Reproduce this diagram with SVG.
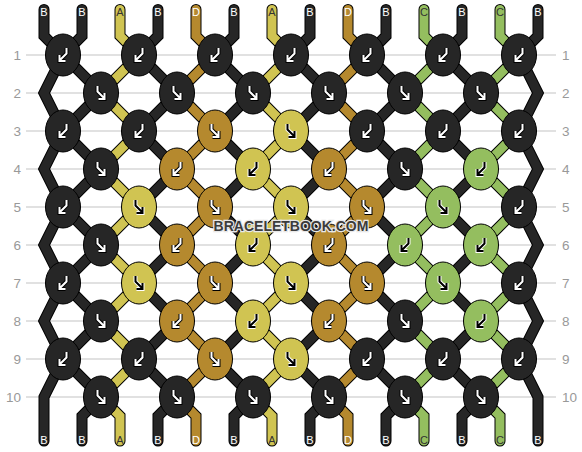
<svg xmlns="http://www.w3.org/2000/svg" xmlns:xlink="http://www.w3.org/1999/xlink" width="582" height="452" viewBox="0 0 582 452">
<style>
.grid line{stroke:#c4c4c4;stroke-width:1.2}
.rl{font-family:"Liberation Sans",Arial,sans-serif;font-size:13.5px;fill:#999}
.rl.l{text-anchor:end}
.sl{font-family:"Liberation Sans",Arial,sans-serif;font-size:11px;text-anchor:middle}
.sl .w{fill:#fff}.sl .d{fill:#333}
.th{fill:none;stroke-linecap:round;stroke-linejoin:miter}
.to{stroke:#000;stroke-width:11}
.tB{stroke:#262626;stroke-width:9}
.tA{stroke:#d0c452;stroke-width:9}
.tD{stroke:#b5892e;stroke-width:9}
.tC{stroke:#94be5f;stroke-width:9}
.k{stroke:#000;stroke-width:1}
.kB{fill:#262626}.kA{fill:#d0c452}.kD{fill:#b5892e}.kC{fill:#94be5f}
.ar{fill:none;stroke-linecap:butt;stroke-linejoin:miter}
.ok{stroke:#000;stroke-width:4}.iw{stroke:#fff;stroke-width:2}
.ow{stroke:#fff;stroke-width:4}.ik{stroke:#000;stroke-width:2}
.wm{font-family:"Liberation Sans",Arial,sans-serif;font-size:14px;font-weight:bold;fill:#3c3c3c;stroke:#e8e8e8;stroke-width:2.5;paint-order:stroke;text-anchor:middle}
</style>
<defs>
<path id="ze" d="M0,9.5 V36 l19,19 l-38,38 l38,38 l-38,38 l38,38 l-38,38 l38,38 l-38,38 l38,38 l-38,38 l19,19 V441"/>
<path id="zo" d="M0,9.5 V36 l-19,19 l38,38 l-38,38 l38,38 l-38,38 l38,38 l-38,38 l38,38 l-38,38 l38,38 l-19,19 V441"/>
<path id="zl" d="M0,9.5 V36 l19,19 l-19,38 l19,38 l-19,38 l19,38 l-19,38 l19,38 l-19,38 l19,38 l-19,38 V441"/>
<path id="zr" d="M0,9.5 V36 l-19,19 l19,38 l-19,38 l19,38 l-19,38 l19,38 l-19,38 l19,38 l-19,38 l19,38 V441"/>
<path id="aR" d="M-3.5,-7 V-1.5 L3,5 M-2.5,6 H3.5 V0"/>
<path id="aL" d="M3.5,-7 V-1.5 L-3,5 M2.5,6 H-3.5 V0"/>
<g id="Rw" class="ar"><use xlink:href="#aR" class="ok"/><use xlink:href="#aR" class="iw"/></g>
<g id="Lw" class="ar"><use xlink:href="#aL" class="ok"/><use xlink:href="#aL" class="iw"/></g>
<g id="Rk" class="ar"><use xlink:href="#aR" class="ow"/><use xlink:href="#aR" class="ik"/></g>
<g id="Lk" class="ar"><use xlink:href="#aL" class="ow"/><use xlink:href="#aL" class="ik"/></g>
<ellipse id="e" rx="17.5" ry="21"/>
</defs>
<rect width="582" height="452" fill="#fff"/>
<g class="grid">
<line x1="26" y1="55" x2="556" y2="55"/><line x1="26" y1="93" x2="556" y2="93"/><line x1="26" y1="131" x2="556" y2="131"/><line x1="26" y1="169" x2="556" y2="169"/><line x1="26" y1="207" x2="556" y2="207"/><line x1="26" y1="245" x2="556" y2="245"/><line x1="26" y1="283" x2="556" y2="283"/><line x1="26" y1="321" x2="556" y2="321"/><line x1="26" y1="359" x2="556" y2="359"/><line x1="26" y1="397" x2="556" y2="397"/>
</g>
<g id="row-labels">
<text class="rl l" x="21" y="59.5">1</text><text class="rl l" x="21" y="97.5">2</text><text class="rl l" x="21" y="135.5">3</text><text class="rl l" x="21" y="173.5">4</text><text class="rl l" x="21" y="211.5">5</text><text class="rl l" x="21" y="249.5">6</text><text class="rl l" x="21" y="287.5">7</text><text class="rl l" x="21" y="325.5">8</text><text class="rl l" x="21" y="363.5">9</text><text class="rl l" x="21" y="401.5">10</text>
<text class="rl" x="562" y="59.5">1</text><text class="rl" x="562" y="97.5">2</text><text class="rl" x="562" y="135.5">3</text><text class="rl" x="562" y="173.5">4</text><text class="rl" x="562" y="211.5">5</text><text class="rl" x="562" y="249.5">6</text><text class="rl" x="562" y="287.5">7</text><text class="rl" x="562" y="325.5">8</text><text class="rl" x="562" y="363.5">9</text><text class="rl" x="562" y="401.5">10</text>
</g>
<g id="connectors" class="th">
<use xlink:href="#zl" x="44" class="to"/><use xlink:href="#zl" x="44" class="tB"/>
<use xlink:href="#zo" x="82" class="to"/><use xlink:href="#zo" x="82" class="tB"/>
<use xlink:href="#ze" x="120" class="to"/><use xlink:href="#ze" x="120" class="tA"/>
<use xlink:href="#zo" x="158" class="to"/><use xlink:href="#zo" x="158" class="tB"/>
<use xlink:href="#ze" x="196" class="to"/><use xlink:href="#ze" x="196" class="tD"/>
<use xlink:href="#zo" x="234" class="to"/><use xlink:href="#zo" x="234" class="tB"/>
<use xlink:href="#ze" x="272" class="to"/><use xlink:href="#ze" x="272" class="tA"/>
<use xlink:href="#zo" x="310" class="to"/><use xlink:href="#zo" x="310" class="tB"/>
<use xlink:href="#ze" x="348" class="to"/><use xlink:href="#ze" x="348" class="tD"/>
<use xlink:href="#zo" x="386" class="to"/><use xlink:href="#zo" x="386" class="tB"/>
<use xlink:href="#ze" x="424" class="to"/><use xlink:href="#ze" x="424" class="tC"/>
<use xlink:href="#zo" x="462" class="to"/><use xlink:href="#zo" x="462" class="tB"/>
<use xlink:href="#ze" x="500" class="to"/><use xlink:href="#ze" x="500" class="tC"/>
<use xlink:href="#zr" x="538" class="to"/><use xlink:href="#zr" x="538" class="tB"/>
</g>
<g id="string-labels" class="sl">
<text class="w" x="44" y="16">B</text><text class="w" x="82" y="16">B</text><text class="d" x="120" y="16">A</text><text class="w" x="158" y="16">B</text><text class="w" x="196" y="16">D</text><text class="w" x="234" y="16">B</text><text class="d" x="272" y="16">A</text><text class="w" x="310" y="16">B</text><text class="w" x="348" y="16">D</text><text class="w" x="386" y="16">B</text><text class="d" x="424" y="16">C</text><text class="w" x="462" y="16">B</text><text class="d" x="500" y="16">C</text><text class="w" x="538" y="16">B</text>
<text class="w" x="44" y="444">B</text><text class="w" x="82" y="444">B</text><text class="d" x="120" y="444">A</text><text class="w" x="158" y="444">B</text><text class="w" x="196" y="444">D</text><text class="w" x="234" y="444">B</text><text class="d" x="272" y="444">A</text><text class="w" x="310" y="444">B</text><text class="w" x="348" y="444">D</text><text class="w" x="386" y="444">B</text><text class="d" x="424" y="444">C</text><text class="w" x="462" y="444">B</text><text class="d" x="500" y="444">C</text><text class="w" x="538" y="444">B</text>
</g>
<g id="knots">
<g id="k1-1" transform="translate(63,55)"><use xlink:href="#e" class="k kB"/><use xlink:href="#Lw"/></g>
<g id="k1-2" transform="translate(139,55)"><use xlink:href="#e" class="k kB"/><use xlink:href="#Lw"/></g>
<g id="k1-3" transform="translate(215,55)"><use xlink:href="#e" class="k kB"/><use xlink:href="#Lw"/></g>
<g id="k1-4" transform="translate(291,55)"><use xlink:href="#e" class="k kB"/><use xlink:href="#Lw"/></g>
<g id="k1-5" transform="translate(367,55)"><use xlink:href="#e" class="k kB"/><use xlink:href="#Lw"/></g>
<g id="k1-6" transform="translate(443,55)"><use xlink:href="#e" class="k kB"/><use xlink:href="#Lw"/></g>
<g id="k1-7" transform="translate(519,55)"><use xlink:href="#e" class="k kB"/><use xlink:href="#Lw"/></g>
<g id="k2-1" transform="translate(101,93)"><use xlink:href="#e" class="k kB"/><use xlink:href="#Rw"/></g>
<g id="k2-2" transform="translate(177,93)"><use xlink:href="#e" class="k kB"/><use xlink:href="#Rw"/></g>
<g id="k2-3" transform="translate(253,93)"><use xlink:href="#e" class="k kB"/><use xlink:href="#Rw"/></g>
<g id="k2-4" transform="translate(329,93)"><use xlink:href="#e" class="k kB"/><use xlink:href="#Rw"/></g>
<g id="k2-5" transform="translate(405,93)"><use xlink:href="#e" class="k kB"/><use xlink:href="#Rw"/></g>
<g id="k2-6" transform="translate(481,93)"><use xlink:href="#e" class="k kB"/><use xlink:href="#Rw"/></g>
<g id="k3-1" transform="translate(63,131)"><use xlink:href="#e" class="k kB"/><use xlink:href="#Lw"/></g>
<g id="k3-2" transform="translate(139,131)"><use xlink:href="#e" class="k kB"/><use xlink:href="#Lw"/></g>
<g id="k3-3" transform="translate(215,131)"><use xlink:href="#e" class="k kD"/><use xlink:href="#Rw"/></g>
<g id="k3-4" transform="translate(291,131)"><use xlink:href="#e" class="k kA"/><use xlink:href="#Rk"/></g>
<g id="k3-5" transform="translate(367,131)"><use xlink:href="#e" class="k kB"/><use xlink:href="#Lw"/></g>
<g id="k3-6" transform="translate(443,131)"><use xlink:href="#e" class="k kB"/><use xlink:href="#Lw"/></g>
<g id="k3-7" transform="translate(519,131)"><use xlink:href="#e" class="k kB"/><use xlink:href="#Lw"/></g>
<g id="k4-1" transform="translate(101,169)"><use xlink:href="#e" class="k kB"/><use xlink:href="#Rw"/></g>
<g id="k4-2" transform="translate(177,169)"><use xlink:href="#e" class="k kD"/><use xlink:href="#Lw"/></g>
<g id="k4-3" transform="translate(253,169)"><use xlink:href="#e" class="k kA"/><use xlink:href="#Lk"/></g>
<g id="k4-4" transform="translate(329,169)"><use xlink:href="#e" class="k kD"/><use xlink:href="#Lw"/></g>
<g id="k4-5" transform="translate(405,169)"><use xlink:href="#e" class="k kB"/><use xlink:href="#Rw"/></g>
<g id="k4-6" transform="translate(481,169)"><use xlink:href="#e" class="k kC"/><use xlink:href="#Lk"/></g>
<g id="k5-1" transform="translate(63,207)"><use xlink:href="#e" class="k kB"/><use xlink:href="#Lw"/></g>
<g id="k5-2" transform="translate(139,207)"><use xlink:href="#e" class="k kA"/><use xlink:href="#Rk"/></g>
<g id="k5-3" transform="translate(215,207)"><use xlink:href="#e" class="k kD"/><use xlink:href="#Rw"/></g>
<g id="k5-4" transform="translate(291,207)"><use xlink:href="#e" class="k kA"/><use xlink:href="#Rk"/></g>
<g id="k5-5" transform="translate(367,207)"><use xlink:href="#e" class="k kD"/><use xlink:href="#Rw"/></g>
<g id="k5-6" transform="translate(443,207)"><use xlink:href="#e" class="k kC"/><use xlink:href="#Rk"/></g>
<g id="k5-7" transform="translate(519,207)"><use xlink:href="#e" class="k kB"/><use xlink:href="#Lw"/></g>
<g id="k6-1" transform="translate(101,245)"><use xlink:href="#e" class="k kB"/><use xlink:href="#Rw"/></g>
<g id="k6-2" transform="translate(177,245)"><use xlink:href="#e" class="k kD"/><use xlink:href="#Lw"/></g>
<g id="k6-3" transform="translate(253,245)"><use xlink:href="#e" class="k kA"/><use xlink:href="#Lk"/></g>
<g id="k6-4" transform="translate(329,245)"><use xlink:href="#e" class="k kD"/><use xlink:href="#Lw"/></g>
<g id="k6-5" transform="translate(405,245)"><use xlink:href="#e" class="k kC"/><use xlink:href="#Lk"/></g>
<g id="k6-6" transform="translate(481,245)"><use xlink:href="#e" class="k kC"/><use xlink:href="#Lk"/></g>
<g id="k7-1" transform="translate(63,283)"><use xlink:href="#e" class="k kB"/><use xlink:href="#Lw"/></g>
<g id="k7-2" transform="translate(139,283)"><use xlink:href="#e" class="k kA"/><use xlink:href="#Rk"/></g>
<g id="k7-3" transform="translate(215,283)"><use xlink:href="#e" class="k kD"/><use xlink:href="#Rw"/></g>
<g id="k7-4" transform="translate(291,283)"><use xlink:href="#e" class="k kA"/><use xlink:href="#Rk"/></g>
<g id="k7-5" transform="translate(367,283)"><use xlink:href="#e" class="k kD"/><use xlink:href="#Rw"/></g>
<g id="k7-6" transform="translate(443,283)"><use xlink:href="#e" class="k kC"/><use xlink:href="#Rk"/></g>
<g id="k7-7" transform="translate(519,283)"><use xlink:href="#e" class="k kB"/><use xlink:href="#Lw"/></g>
<g id="k8-1" transform="translate(101,321)"><use xlink:href="#e" class="k kB"/><use xlink:href="#Rw"/></g>
<g id="k8-2" transform="translate(177,321)"><use xlink:href="#e" class="k kD"/><use xlink:href="#Lw"/></g>
<g id="k8-3" transform="translate(253,321)"><use xlink:href="#e" class="k kA"/><use xlink:href="#Lk"/></g>
<g id="k8-4" transform="translate(329,321)"><use xlink:href="#e" class="k kD"/><use xlink:href="#Lw"/></g>
<g id="k8-5" transform="translate(405,321)"><use xlink:href="#e" class="k kB"/><use xlink:href="#Rw"/></g>
<g id="k8-6" transform="translate(481,321)"><use xlink:href="#e" class="k kC"/><use xlink:href="#Lk"/></g>
<g id="k9-1" transform="translate(63,359)"><use xlink:href="#e" class="k kB"/><use xlink:href="#Lw"/></g>
<g id="k9-2" transform="translate(139,359)"><use xlink:href="#e" class="k kB"/><use xlink:href="#Lw"/></g>
<g id="k9-3" transform="translate(215,359)"><use xlink:href="#e" class="k kD"/><use xlink:href="#Rw"/></g>
<g id="k9-4" transform="translate(291,359)"><use xlink:href="#e" class="k kA"/><use xlink:href="#Rk"/></g>
<g id="k9-5" transform="translate(367,359)"><use xlink:href="#e" class="k kB"/><use xlink:href="#Lw"/></g>
<g id="k9-6" transform="translate(443,359)"><use xlink:href="#e" class="k kB"/><use xlink:href="#Lw"/></g>
<g id="k9-7" transform="translate(519,359)"><use xlink:href="#e" class="k kB"/><use xlink:href="#Lw"/></g>
<g id="k10-1" transform="translate(101,397)"><use xlink:href="#e" class="k kB"/><use xlink:href="#Rw"/></g>
<g id="k10-2" transform="translate(177,397)"><use xlink:href="#e" class="k kB"/><use xlink:href="#Rw"/></g>
<g id="k10-3" transform="translate(253,397)"><use xlink:href="#e" class="k kB"/><use xlink:href="#Rw"/></g>
<g id="k10-4" transform="translate(329,397)"><use xlink:href="#e" class="k kB"/><use xlink:href="#Rw"/></g>
<g id="k10-5" transform="translate(405,397)"><use xlink:href="#e" class="k kB"/><use xlink:href="#Rw"/></g>
<g id="k10-6" transform="translate(481,397)"><use xlink:href="#e" class="k kB"/><use xlink:href="#Rw"/></g>
</g>
<text id="watermark" class="wm" x="291" y="231">BRACELETBOOK.COM</text>
</svg>
